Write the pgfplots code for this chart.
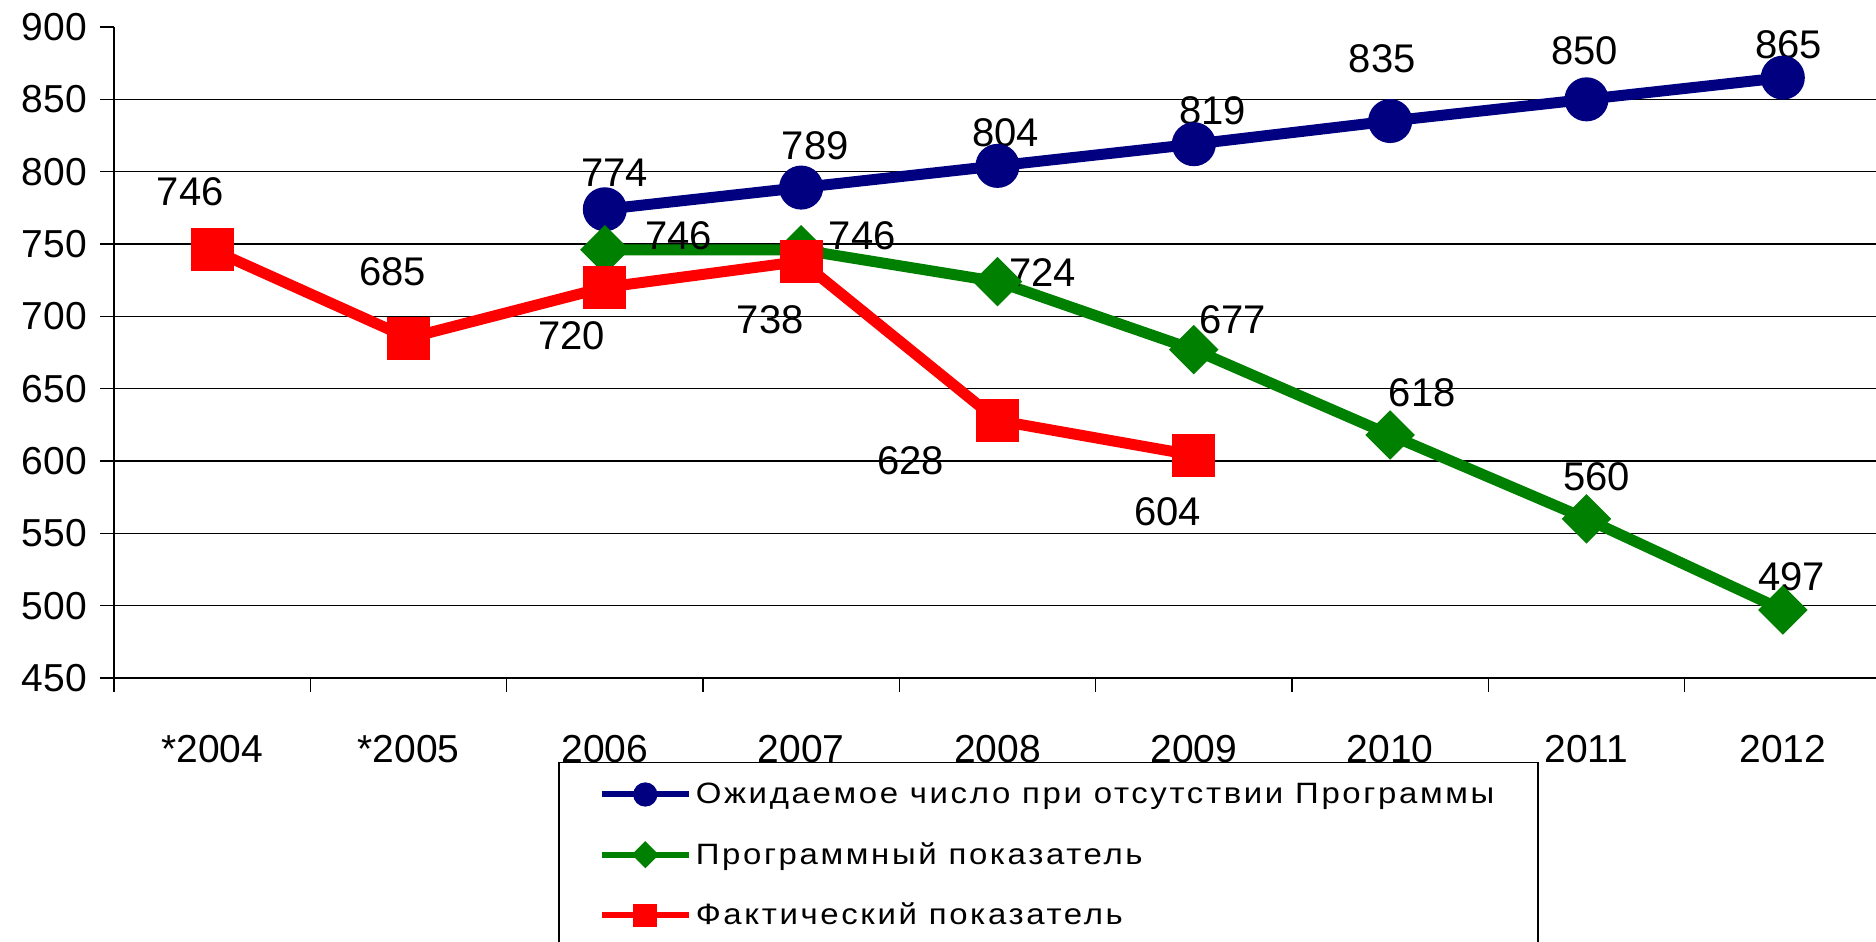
\documentclass[border=0pt]{standalone}
\usepackage{fontspec}
\setmainfont{Liberation Sans}
\newfontfamily\legfont[LetterSpace=9, FakeStretch=1.12]{Liberation Sans}
\usepackage{pgfplots}
\pgfplotsset{compat=1.18}
\definecolor{cblue}{RGB}{0,0,128}
\definecolor{cgreen}{RGB}{0,128,0}
\definecolor{cred}{RGB}{255,0,0}
\begin{document}
\begin{tikzpicture}
\begin{axis}[
  at={(57pt,132pt)}, anchor=south west,
  scale only axis, width=883.5pt, height=325.5pt,
  xmin=-0.5, xmax=8.5, ymin=450, ymax=900,
  axis x line*=bottom, axis y line*=left,
  axis line style={black, line width=0.75pt, -},
  xtick={-0.5,0.5,...,8.5}, xticklabels={},
  extra x ticks={0,1,2,3,4,5,6,7,8},
  extra x tick labels={*2004,*2005,2006,2007,2008,2009,2010,2011,2012},
  extra x tick style={major tick length=0pt, grid=none, tick label style={yshift=-25pt}},
  ytick={450,500,...,850}, extra y ticks={900}, extra y tick style={grid=none},
  yticklabel style={xshift=-3pt},
  ymajorgrids, major grid style={black, line width=0.75pt},
  tick align=outside, major tick length=7pt, tick style={black, line width=0.75pt},
  /pgf/number format/assume math mode=true,
  tick label style={font=\fontsize{19.5}{20}\selectfont},
  legend style={at={(axis description cs:0.2513,-0.129)}, anchor=north west,
    draw=black, line width=0.75pt, font=\legfont\fontsize{14.7}{16}\selectfont,
    row sep=14pt, inner xsep=20pt, inner ysep=8pt},
  legend cell align=left,
  legend image code/.code={\draw[mark repeat=2, mark phase=2, #1, line width=3pt,
     /tikz/every mark/.append style={scale=0.55}]
     plot coordinates {(0pt,0pt)(21.75pt,0pt)(43.5pt,0pt)};},
]
\addplot[cblue, line width=5.5pt, mark=*, mark size=8.25pt, mark options={draw=none, fill=cblue}]
  coordinates {(2,774)(3,789)(4,804)(5,819)(6,835)(7,850)(8,865)};
\addlegendentry{Ожидаемое число при отсутствии Программы}
\addplot[cgreen, line width=5.5pt, mark=square*, mark size=6pt, mark options={rotate=45, draw=none, fill=cgreen}]
  coordinates {(2,746)(3,746)(4,724)(5,677)(6,618)(7,560)(8,497)};
\addlegendentry{Программный показатель}
\addplot[cred, line width=5.5pt, mark=square*, mark size=8pt, mark options={draw=none, fill=cred}]
  coordinates {(0,746)(1,685)(2,720)(3,738)(4,628)(5,604)};
\addlegendentry{Фактический показатель}
\addlegendimage{empty legend}
\addlegendentry{}

\tikzset{dl/.style={font=\fontsize{20}{22}\selectfont, inner sep=0pt}}
% red labels
\node[dl, xshift=-11pt, yshift=29pt] at (axis cs:0,746) {746};
\node[dl, xshift=-8pt, yshift=33pt] at (axis cs:1,685) {685};
\node[dl, xshift=-16.5pt, yshift=-24pt] at (axis cs:2,720) {720};
\node[dl, xshift=-15.5pt, yshift=-29pt] at (axis cs:3,738) {738};
\node[dl, xshift=-43.5pt, yshift=-20pt] at (axis cs:4,628) {628};
\node[dl, xshift=-13pt, yshift=-28.5pt] at (axis cs:5,604) {604};
% blue labels
\node[dl, xshift=5pt, yshift=18.5pt] at (axis cs:2,774) {774};
\node[dl, xshift=7pt, yshift=21pt] at (axis cs:3,789) {789};
\node[dl, xshift=4pt, yshift=16.5pt] at (axis cs:4,804) {804};
\node[dl, xshift=9.5pt, yshift=16.5pt] at (axis cs:5,819) {819};
\node[dl, xshift=-4pt, yshift=31pt] at (axis cs:6,835) {835};
\node[dl, xshift=-1pt, yshift=24.5pt] at (axis cs:7,850) {850};
\node[dl, xshift=3pt, yshift=16.5pt] at (axis cs:8,865) {865};
% green labels
\node[dl, xshift=37pt, yshift=7pt] at (axis cs:2,746) {746};
\node[dl, xshift=30.5pt, yshift=7pt] at (axis cs:3,746) {746};
\node[dl, xshift=22.5pt, yshift=4.5pt] at (axis cs:4,724) {724};
\node[dl, xshift=19.5pt, yshift=15pt] at (axis cs:5,677) {677};
\node[dl, xshift=16pt, yshift=21pt] at (axis cs:6,618) {618};
\node[dl, xshift=5pt, yshift=21pt] at (axis cs:7,560) {560};
\node[dl, xshift=4.5pt, yshift=16.5pt] at (axis cs:8,497) {497};
\end{axis}
\pgfresetboundingbox
\useasboundingbox (0,0) rectangle (938pt,471pt);
\end{tikzpicture}
\end{document}
